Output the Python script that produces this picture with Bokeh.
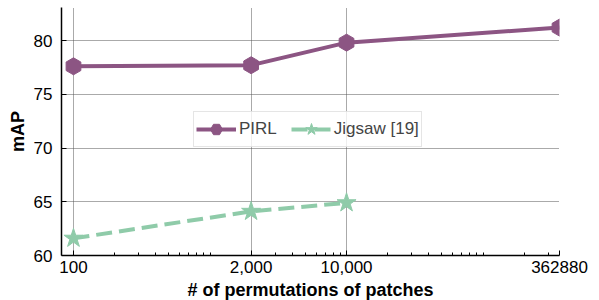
import math
from bokeh.plotting import figure
from bokeh.models import Range1d, FixedTicker, Legend, LegendItem
from bokeh.embed import file_html
from bokeh.resources import INLINE

# data
perms_pirl = [100, 2000, 10000, 362880]
map_pirl = [77.6, 77.7, 79.8, 81.2]
perms_jig = [100, 2000, 10000]
map_jig = [61.6, 64.1, 64.9]
x_ticks = [100, 2000, 10000, 362880]
x_tick_labels = ["100", "2,000", "10,000", "362880"]
y_ticks = [60, 65, 70, 75, 80]
minor = [200, 300, 400, 500, 600, 700, 800, 900, 1000, 3000, 4000, 5000, 6000,
         7000, 8000, 9000, 20000, 30000, 40000, 50000, 60000, 70000, 80000,
         90000, 100000, 200000, 300000]

PURPLE = "#8C5583"
GREEN = "#8FCBA9"
FONT = "Liberation Sans"

p = figure(width=590, height=292, x_axis_type="log",
           output_backend="svg", toolbar_location=None,
           x_range=Range1d(81.7, 362880), y_range=Range1d(60, 83.07),
           min_border_top=7, min_border_left=61, min_border_right=31,
           min_border_bottom=37)
p.frame_width = 498
p.frame_height = 248
p.outline_line_color = None

for ax in (p.xaxis[0], p.yaxis[0]):
    ax.axis_line_width = 1.5
    ax.axis_line_color = "black"
    ax.major_tick_in = 5
    ax.major_tick_out = 0
    ax.minor_tick_in = 3
    ax.minor_tick_out = 0
    ax.major_tick_line_color = "black"
    ax.minor_tick_line_color = "black"
    ax.major_label_text_font = FONT
    ax.major_label_text_font_size = "17px"
    ax.major_label_text_color = "black"
    ax.axis_label_text_font = FONT
    ax.axis_label_text_font_size = "18px"
    ax.axis_label_text_font_style = "bold"
    ax.axis_label_text_color = "black"

p.xaxis.ticker = FixedTicker(ticks=x_ticks, minor_ticks=minor)
p.xaxis.major_label_overrides = {t: l for t, l in zip(x_ticks, x_tick_labels)}
p.xaxis.axis_label = "# of permutations of patches"
p.xaxis.major_label_standoff = 5
p.xaxis.axis_label_standoff = 4
p.yaxis.ticker = FixedTicker(ticks=y_ticks)
p.yaxis.minor_tick_line_color = None
p.yaxis.axis_label = "mAP"
p.yaxis.major_label_standoff = 9
p.yaxis.axis_label_standoff = 3

for g in (p.xgrid[0], p.ygrid[0]):
    g.grid_line_color = "#555555"
    g.grid_line_dash = "1 1"
    g.grid_line_width = 1

l1 = p.line(perms_pirl, map_pirl, line_color=PURPLE, line_width=4)
s1 = p.scatter(perms_pirl, map_pirl, marker="hex", angle=math.pi / 2, size=17,
               fill_color=PURPLE, line_color=PURPLE)
l2 = p.line(perms_jig, map_jig, line_color=GREEN, line_width=4, line_dash="16 7")
s2 = p.scatter(perms_jig, map_jig, marker="star", size=20,
               fill_color=GREEN, line_color=GREEN)

legend = Legend(items=[LegendItem(label="PIRL", renderers=[l1, s1]),
                       LegendItem(label="Jigsaw [19]", renderers=[l2, s2])],
                orientation="horizontal", location=(132, 108),
                glyph_width=40, glyph_height=30, label_standoff=3,
                spacing=14, padding=2, margin=0,
                label_text_font=FONT, label_text_font_size="17px",
                border_line_color="#cccccc", border_line_width=1.5,
                background_fill_alpha=0.8)
p.add_layout(legend)

open("out.html", "w").write(file_html(p, INLINE))
